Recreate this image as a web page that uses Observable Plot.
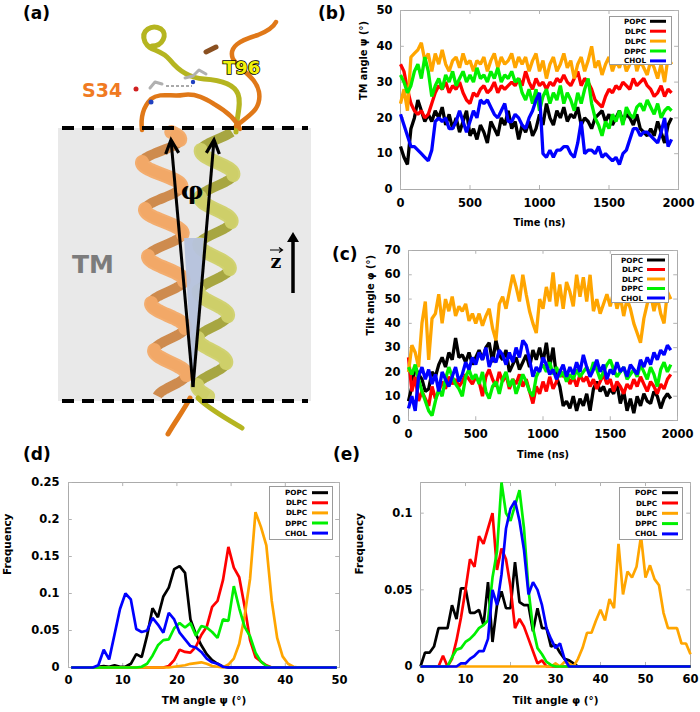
<!DOCTYPE html>
<html><head><meta charset="utf-8">
<script src="https://cdn.jsdelivr.net/npm/d3@7"></script>
<script src="https://cdn.jsdelivr.net/npm/@observablehq/plot@0.6"></script>
<style>
body{margin:0;background:#fff;}
#fig{position:relative;width:700px;height:712px;overflow:hidden;background:#fff;font-family:"DejaVu Sans",Verdana,sans-serif;}
#fig > svg{position:absolute;overflow:visible;}
.plabel{position:absolute;font-weight:bold;font-size:17px;line-height:1;font-family:"DejaVu Sans",Verdana,sans-serif;}
</style></head><body><div id="fig"></div><script>
// ---------- data ----------
const seriesNames = ["POPC", "DLPC", "DLPC", "DPPC", "CHOL"];
const seriesColors = ["#000000", "#ff0000", "#ffa500", "#00f000", "#0000ff"];
const timeNs = d3.range(0, 1951, 25);
const timeTicks = [0, 500, 1000, 1500, 2000];

// (b) TM angle psi vs time
const psiPOPC = [12,9,7,17,20,25,22,19,21,19,22,20,23,18,21,17,20,16,19,22,15,17,14,18,16,13,19,17,15,20,18,22,17,19,14,18,16,19,15,17,21,18,24,20,18,22,20,23,19,21,20,23,18,20,19,17,20,21,22,19,21,18,20,22,19,21,20,18,21,17,16,15,17,15,19,16,13,18,20];
const psiDLPC = [35,33,28,24,22,21,22,20,21,24,27,29,28,30,27,29,28,30,27,25,24,27,26,28,29,27,28,30,27,29,28,29,30,29,31,29,33,30,28,31,29,30,28,30,29,31,30,32,30,29,31,33,29,31,30,28,25,24,23,26,28,27,29,28,30,29,28,31,29,30,31,29,28,26,27,29,26,28,27];
const psiDLPC2 = [24,28,22,37,38,39,41,36,38,33,38,35,39,35,33,36,37,34,38,35,36,33,36,35,37,33,36,38,34,37,35,36,38,34,37,35,37,33,36,38,33,36,31,35,37,33,35,38,34,36,31,35,37,33,36,40,34,36,32,35,37,33,36,34,37,33,35,39,33,36,34,32,36,34,31,35,30,37,35];
const psiDPPC = [32,30,27,29,33,35,31,37,33,26,29,31,28,32,30,33,29,31,33,30,32,30,34,31,32,30,33,31,34,30,32,31,33,30,31,27,25,28,24,28,22,26,28,24,27,25,29,24,27,25,22,27,24,28,31,24,20,18,15,19,17,21,19,22,18,23,21,20,23,24,22,25,23,21,24,20,22,23,22];
const psiCHOL = [21,18,15,12,12,11,10,9,8,11,19,20,19,20,17,17,19,22,19,16,19,22,20,25,24,25,23,21,20,22,24,19,19,21,20,18,17,20,22,25,27,10,9,11,9,11,11,12,12,10,9,13,19,10,11,11,10,12,9,10,9,8,9,7,10,11,14,17,17,15,16,16,15,14,13,16,20,12,14];

// (c) tilt angle phi vs time
const phiPOPC = [8,14,22,19,17,12,13,20,18,23,26,22,28,25,34,26,27,24,28,23,26,29,25,30,32,24,33,27,25,29,20,23,26,21,24,27,22,29,25,30,24,32,22,30,18,14,6,8,5,10,4,9,6,11,4,13,16,12,14,10,13,11,15,7,12,4,9,3,10,6,11,8,7,12,10,5,9,11,9];
const phiDLPC = [26,12,18,8,12,9,6,14,9,12,16,13,18,15,17,14,16,19,17,15,18,16,10,18,21,17,14,20,16,19,13,17,15,19,14,17,12,7,14,11,16,12,18,13,16,21,18,20,15,18,14,19,16,18,14,17,13,16,19,15,17,12,16,14,11,15,13,17,14,18,15,12,16,14,11,15,13,17,19];
const phiDLPC2 = [20,31,28,22,40,49,25,42,44,52,40,50,45,51,43,47,45,48,41,44,40,44,39,43,46,38,33,48,51,46,53,60,55,49,60,52,45,40,36,50,46,55,49,61,47,56,46,57,53,47,60,51,59,49,60,45,50,44,48,52,47,53,46,51,43,50,46,40,36,32,42,48,52,45,51,44,40,53,50];
const phiDPPC = [22,19,23,17,12,8,4,2,8,13,10,17,22,18,15,13,10,18,21,17,19,15,20,12,9,14,16,11,17,20,14,17,11,15,19,16,12,10,18,21,23,20,24,19,22,18,20,16,19,17,21,18,20,22,19,24,21,17,20,23,25,21,18,20,22,17,19,21,18,23,20,17,22,19,14,21,24,20,23];
const phiCHOL = [5,10,4,18,22,17,21,15,19,12,20,17,14,18,22,16,19,24,21,26,23,28,25,30,22,26,24,29,27,23,28,24,30,26,33,31,25,18,22,20,26,23,19,21,17,20,23,18,22,19,24,20,27,22,18,21,25,20,23,17,21,19,24,20,22,18,23,21,19,25,22,26,23,28,25,29,27,31,29];

// (d) frequency of TM angle psi (1-degree bins, centred)
const binsD = d3.range(0.5, 50, 1);
const dPOPC = [0,0,0,0,0,0.001,0.002,0.001,0.003,0.001,0.001,0.005,0.018,0.014,0.043,0.08,0.068,0.096,0.108,0.133,0.137,0.128,0.065,0.045,0.03,0.018,0.01,0.005,0.001,0,0,0,0,0,0,0,0,0,0,0,0,0,0,0,0,0,0,0,0,0];
const dDLPC = [0,0,0,0,0,0,0,0,0,0,0,0,0,0,0,0,0,0,0.002,0.01,0.024,0.021,0.02,0.028,0.044,0.055,0.082,0.09,0.118,0.163,0.135,0.122,0.082,0.037,0.014,0.008,0.003,0,0,0,0,0,0,0,0,0,0,0,0,0];
const dDLPC2 = [0,0,0,0,0,0,0,0,0,0,0,0,0,0,0,0,0,0,0,0.001,0.002,0.003,0.005,0.006,0.007,0.005,0.002,0.001,0,0.004,0.012,0.032,0.07,0.12,0.21,0.19,0.165,0.09,0.04,0.015,0.005,0.001,0,0,0,0,0,0,0,0];
const dDPPC = [0,0,0,0,0,0,0,0,0,0,0,0,0,0.001,0.005,0.016,0.03,0.037,0.038,0.053,0.06,0.054,0.06,0.043,0.056,0.054,0.048,0.04,0.065,0.063,0.11,0.08,0.055,0.042,0.02,0.008,0.002,0,0,0,0,0,0,0,0,0,0,0,0,0];
const dCHOL = [0,0,0,0,0,0.003,0.024,0.011,0.045,0.079,0.1,0.092,0.052,0.048,0.05,0.067,0.058,0.047,0.074,0.065,0.047,0.038,0.029,0.027,0.021,0.012,0.007,0.005,0.001,0,0,0,0,0,0,0,0,0,0,0,0,0,0,0,0,0,0,0,0,0];

// (e) frequency of tilt angle phi (1-degree bins)
const binsE = d3.range(0, 61, 1);
const ePOPC = [0,0.009,0.009,0.013,0.025,0.025,0.025,0.04,0.031,0.051,0.051,0.035,0.035,0.037,0.027,0.055,0.016,0.04,0.049,0.038,0.038,0.068,0.042,0.04,0.04,0.023,0.038,0.025,0.025,0.013,0.014,0.009,0.005,0.004,0.002,0,0,0,0,0,0,0,0,0,0,0,0,0,0,0,0,0,0,0,0,0,0,0,0,0,0];
const eDLPC = [0,0,0,0,0,0.007,0,0.005,0.017,0.032,0.05,0.07,0.065,0.085,0.08,0.09,0.1,0.063,0.077,0.07,0.052,0.025,0.031,0.026,0.018,0.01,0.002,0.004,0,0,0,0,0,0,0,0,0,0,0,0,0,0,0,0,0,0,0,0,0,0,0,0,0,0,0,0,0,0,0,0,0];
const eDLPC2 = [0,0,0,0,0,0,0,0,0,0,0,0,0,0,0,0,0,0,0,0,0,0,0,0,0,0,0,0,0,0,0.002,0,0.003,0.002,0,0.005,0.012,0.022,0.022,0.03,0.037,0.03,0.044,0.038,0.08,0.047,0.062,0.058,0.065,0.085,0.058,0.066,0.057,0.053,0.035,0.025,0.025,0.025,0.015,0.015,0.008];
const eDPPC = [0,0,0,0,0,0,0,0.006,0.011,0.012,0.016,0.018,0.021,0.025,0.027,0.03,0.058,0.075,0.12,0.1,0.095,0.105,0.115,0.09,0.05,0.025,0.012,0.008,0.003,0.001,0,0,0,0,0,0,0,0,0,0,0,0,0,0,0,0,0,0,0,0,0,0,0,0,0,0,0,0,0,0,0];
const eCHOL = [0,0,0,0,0,0,0,0,0,0.002,0.002,0.005,0.007,0.01,0.01,0.018,0.05,0.04,0.06,0.09,0.103,0.108,0.095,0.076,0.047,0.055,0.05,0.04,0.025,0.018,0.012,0.015,0.005,0,0,0,0,0,0,0,0,0,0,0,0,0,0,0,0,0,0,0,0,0,0,0,0,0,0,0,0];

// ---------- drawing ----------
const fig = document.getElementById("fig");
const FONT = '"DejaVu Sans", Verdana, sans-serif';
const fmtNum = d => (d === 0 ? "0" : String(+d.toFixed(3)));

function panel(o) {
  const [x0, x1] = o.xDomain, [y0, y1] = o.yDomain;
  const tx = (x1 - x0) * 0.014, ty = (y1 - y0) * 0.022;
  const tickStroke = "#b3b3b3";
  const marks = [
    Plot.frame({stroke: "#ababab", strokeWidth: 1}),
    Plot.ruleX(o.xTicks, {y1: y0, y2: y0 + ty, stroke: tickStroke}),
    Plot.ruleX(o.xTicks, {y1: y1, y2: y1 - ty, stroke: tickStroke}),
    Plot.ruleY(o.yTicks, {x1: x0, x2: x0 + tx, stroke: tickStroke}),
    Plot.ruleY(o.yTicks, {x1: x1, x2: x1 - tx, stroke: tickStroke}),
    ...o.ys.map((vals, i) => Plot.line(vals, {
      x: (d, j) => o.xs[j], y: d => d,
      stroke: seriesColors[i], strokeWidth: o.sw, strokeLinejoin: "miter", strokeLinecap: "butt"
    })),
    Plot.axisX({ticks: o.xTicks, tickSize: 0, tickPadding: o.xPad, label: null, tickFormat: fmtNum, fontSize: o.tickSize, fontWeight: "bold"}),
    Plot.axisY({ticks: o.yTicks, tickSize: 0, tickPadding: o.yPad, label: null, tickFormat: fmtNum, fontSize: o.tickSize, fontWeight: "bold"}),
    Plot.text([o.xLabel], {frameAnchor: "bottom", dy: o.xLabelDy, fontSize: o.titleSize, fontWeight: "bold", fill: "#000"}),
    Plot.text([o.yLabel], {frameAnchor: "left", dx: o.yLabelDx, rotate: -90, fontSize: o.titleSize, fontWeight: "bold", fill: "#000"})
  ];
  const svg = Plot.plot({
    width: o.width, height: o.height,
    marginTop: o.mt, marginRight: o.mr, marginBottom: o.mb, marginLeft: o.ml,
    x: {domain: o.xDomain, label: null},
    y: {domain: o.yDomain, label: null},
    style: {fontFamily: FONT, fontWeight: "bold", fontSize: "11.5px", color: "#000", background: "transparent", overflow: "visible"},
    marks
  });
  svg.style.position = "absolute";
  svg.style.left = o.left + "px";
  svg.style.top = o.top + "px";
  fig.appendChild(svg);
}

function legend(left, top, w, h, textRight, lx1, lx2, y0, step) {
  const svg = d3.select(fig).append("svg")
    .style("left", left + "px").style("top", top + "px")
    .attr("width", w).attr("height", h);
  svg.append("rect").attr("x", 0.5).attr("y", 0.5).attr("width", w - 1).attr("height", h - 1)
    .attr("fill", "#fff").attr("stroke", "#9a9a9a").attr("stroke-width", 1);
  seriesNames.forEach((n, i) => {
    const y = y0 + i * step;
    svg.append("text").attr("x", textRight).attr("y", y).attr("dy", "0.36em")
      .attr("text-anchor", "end").attr("font-family", FONT).attr("font-weight", "bold")
      .attr("font-size", 7.2).text(n);
    svg.append("line").attr("x1", lx1).attr("x2", lx2).attr("y1", y).attr("y2", y)
      .attr("stroke", seriesColors[i]).attr("stroke-width", 3);
  });
}

function plabel(txt, x, y) {
  const d = document.createElement("div");
  d.className = "plabel"; d.textContent = txt;
  d.style.left = x + "px"; d.style.top = y + "px";
  fig.appendChild(d);
}

// ---------- panel (a): schematic ----------
(function drawA() {
  const A = d3.select(fig).append("svg").style("left", "0px").style("top", "0px")
    .attr("width", 345).attr("height", 440);
  A.append("rect").attr("x", 58).attr("y", 128).attr("width", 253).attr("height", 273).attr("fill", "#e9e9e9");

  function helix(xTop, xBot, yTop, yBot, aTop, aBot, period, phase, back, front, wBack, wFront) {
    const pts = d3.range(yTop, yBot + 0.5, 1).map(y => {
      const t = (y - yTop) / (yBot - yTop);
      const cx = xTop + (xBot - xTop) * t, a = aTop + (aBot - aTop) * t;
      const th = 2 * Math.PI * (y - yTop) / period + phase;
      return {x: cx + a * Math.sin(th), y, f: Math.cos(th) > -0.15};
    });
    const line = d3.line().x(d => d.x).y(d => d.y);
    A.append("path").attr("d", line(pts)).attr("fill", "none").attr("stroke", back)
      .attr("stroke-width", wBack).attr("opacity", 0.95);
    let seg = [];
    pts.forEach((p, i) => {
      if (p.f) seg.push(p);
      if ((!p.f || i === pts.length - 1) && seg.length > 1) {
        A.append("path").attr("d", line(seg)).attr("fill", "none").attr("stroke", front)
          .attr("stroke-width", wFront).attr("stroke-linecap", "round").attr("opacity", 0.95);
        seg = [];
      } else if (!p.f) seg = [];
    });
  }
  helix(160, 172, 132, 396, 20, 15, 47, 0.6, "#cc8646", "#f3aa68", 10, 14);
  helix(218, 211, 132, 396, 17, 14, 47, 2.2, "#a3a238", "#d0d16c", 10, 14);

  // loops above membrane
  const loop = (d, c, w) => A.append("path").attr("d", d).attr("fill", "none").attr("stroke", c)
    .attr("stroke-width", w).attr("stroke-linecap", "round").attr("stroke-linejoin", "round");
  loop("M236,132 C236,118 242,104 238,94 C234,84 220,80 204,79 C190,78 178,70 170,60 C160,48 150,52 145,42 C140,30 152,24 161,29 C168,34 163,46 152,46", "#b5b520", 5);
  loop("M142,130 C140,114 146,104 151,99 C160,92 172,97 183,95 C196,93 206,99 214,104 C226,111 236,119 240,129", "#e07818", 4.5);
  loop("M236,126 C248,116 262,110 259,92 C256,77 242,72 233,59 C228,47 240,40 258,35 C268,31 274,26 276,22", "#e07818", 4.5);
  loop("M206,52 L216,47", "#8a5020", 5);
  // residue sticks
  loop("M150,88 L155,82 L162,84", "#b0b0b0", 3);
  loop("M185,78 L193,76 L199,70 L206,74", "#b0b0b0", 3);
  A.append("line").attr("x1", 166).attr("y1", 86).attr("x2", 192).attr("y2", 86)
    .attr("stroke", "#555").attr("stroke-width", 1).attr("stroke-dasharray", "3,2");
  A.append("circle").attr("cx", 136).attr("cy", 89).attr("r", 2.5).attr("fill", "#d02020");
  A.append("circle").attr("cx", 151).attr("cy", 102).attr("r", 2.5).attr("fill", "#2040c0");
  A.append("circle").attr("cx", 193).attr("cy", 82).attr("r", 2.2).attr("fill", "#2040c0");

  // tails below
  loop("M190,398 C184,410 176,420 168,434", "#e07818", 5);
  loop("M198,398 C210,410 226,418 242,428", "#b5b520", 5);

  // dashed membrane boundaries
  [128, 401].forEach(y => A.append("line").attr("x1", 62).attr("x2", 308).attr("y1", y).attr("y2", y)
    .attr("stroke", "#000").attr("stroke-width", 4).attr("stroke-dasharray", "12,8"));

  // angle wedge and arrows
  A.append("path").attr("d", "M184,238 L204,238 L193,386 Z").attr("fill", "#b5c2dc").attr("opacity", 0.95);
  const arrow = (x2, y2) => {
    const x1 = 193, y1 = 387;
    A.append("line").attr("x1", x1).attr("y1", y1).attr("x2", x2).attr("y2", y2)
      .attr("stroke", "#000").attr("stroke-width", 3);
    const ang = Math.atan2(y2 - y1, x2 - x1), L = 15, s = 0.45;
    const p = a => [x2 - L * Math.cos(a), y2 - L * Math.sin(a)];
    const [ax, ay] = p(ang - s), [bx, by] = p(ang + s);
    A.append("path").attr("d", `M${ax},${ay} L${x2},${y2} L${bx},${by}`).attr("fill", "none")
      .attr("stroke", "#000").attr("stroke-width", 3.2).attr("stroke-linejoin", "miter");
  };
  arrow(171, 140);
  arrow(214, 140);

  A.append("text").attr("x", 192).attr("y", 199).attr("text-anchor", "middle")
    .attr("font-family", '"DejaVu Serif", serif').attr("font-weight", "bold").attr("font-size", 25).text("φ");
  A.append("text").attr("x", 72).attr("y", 273).attr("font-family", FONT)
    .attr("font-weight", "bold").attr("font-size", 25).attr("fill", "#7c7c7c").text("TM");
  A.append("text").attr("x", 276).attr("y", 268).attr("text-anchor", "middle")
    .attr("font-family", '"DejaVu Serif", serif').attr("font-weight", "bold").attr("font-size", 19).text("z");
  A.append("path").attr("d", "M270,250 L282,250 M279,247.5 L282.5,250 L279,252.5").attr("fill", "none")
    .attr("stroke", "#000").attr("stroke-width", 1.2);
  A.append("line").attr("x1", 293).attr("y1", 293).attr("x2", 293).attr("y2", 240)
    .attr("stroke", "#000").attr("stroke-width", 3.5);
  A.append("path").attr("d", "M287,242 L293,232 L299,242 Z").attr("fill", "#000");

  A.append("text").attr("x", 82).attr("y", 97).attr("font-family", FONT).attr("font-weight", "bold")
    .attr("font-size", 19).attr("fill", "#f07a22").text("S34");
  A.append("text").attr("x", 223).attr("y", 74).attr("font-family", FONT).attr("font-weight", "bold")
    .attr("font-size", 18).attr("fill", "#f2f20a").attr("stroke", "#000").attr("stroke-width", 1.6)
    .attr("paint-order", "stroke").text("T96");
})();

// ---------- panel (b) ----------
panel({left: 340, top: 0, width: 350, height: 240, mt: 10, mr: 12, mb: 51, ml: 60,
  xDomain: [0, 2000], yDomain: [0, 50], xTicks: timeTicks, yTicks: [0, 10, 20, 30, 40, 50],
  xs: timeNs, ys: [psiPOPC, psiDLPC, psiDLPC2, psiDPPC, psiCHOL], sw: 3.3,
  xLabel: "Time (ns)", yLabel: "TM angle ψ (°)", xLabelDy: 36, yLabelDx: -37,
  tickSize: 11.5, titleSize: 9.8, xPad: 9, yPad: 8});
legend(609, 16, 63, 49, 37, 41, 57, 5.3, 9.9);

// ---------- panel (c) ----------
panel({left: 340, top: 240, width: 350, height: 230, mt: 10, mr: 13, mb: 50, ml: 68,
  xDomain: [0, 2000], yDomain: [0, 70], xTicks: timeTicks, yTicks: [0, 10, 20, 30, 40, 50, 60, 70],
  xs: timeNs, ys: [phiPOPC, phiDLPC, phiDLPC2, phiDPPC, phiCHOL], sw: 3.3,
  xLabel: "Time (ns)", yLabel: "Tilt angle φ (°)", xLabelDy: 37, yLabelDx: -38,
  tickSize: 11.5, titleSize: 9.8, xPad: 9, yPad: 8});
legend(611, 254, 58, 49, 32, 36, 54, 6, 9.5);

// ---------- panel (d) ----------
panel({left: 0, top: 470, width: 350, height: 242, mt: 12, mr: 11, mb: 45, ml: 68,
  xDomain: [0, 50], yDomain: [0, 0.25], xTicks: [0, 10, 20, 30, 40, 50], yTicks: [0, 0.05, 0.1, 0.15, 0.2, 0.25],
  xs: binsD, ys: [dPOPC, dDLPC, dDLPC2, dDPPC, dCHOL], sw: 2.7,
  xLabel: "TM angle ψ (°)", yLabel: "Frequency", xLabelDy: 36, yLabelDx: -61,
  tickSize: 11.5, titleSize: 10.5, xPad: 8, yPad: 9});
legend(269, 486, 64, 54, 38, 43, 59, 6.7, 10.1);

// ---------- panel (e) ----------
panel({left: 350, top: 470, width: 350, height: 242, mt: 12, mr: 10, mb: 46, ml: 70,
  xDomain: [0, 60], yDomain: [0, 0.12], xTicks: [0, 10, 20, 30, 40, 50, 60], yTicks: [0, 0.05, 0.1],
  xs: binsE, ys: [ePOPC, eDLPC, eDLPC2, eDPPC, eCHOL], sw: 2.7,
  xLabel: "Tilt angle φ (°)", yLabel: "Frequency", xLabelDy: 37, yLabelDx: -61,
  tickSize: 11.5, titleSize: 10.5, xPad: 8, yPad: 8});
legend(619, 487, 64, 53, 38, 43, 59, 5.7, 10.3);

// panel letters
plabel("(a)", 23, 5);
plabel("(b)", 318, 5);
plabel("(c)", 332, 246);
plabel("(d)", 23, 446);
plabel("(e)", 333, 446);
</script></body></html>
